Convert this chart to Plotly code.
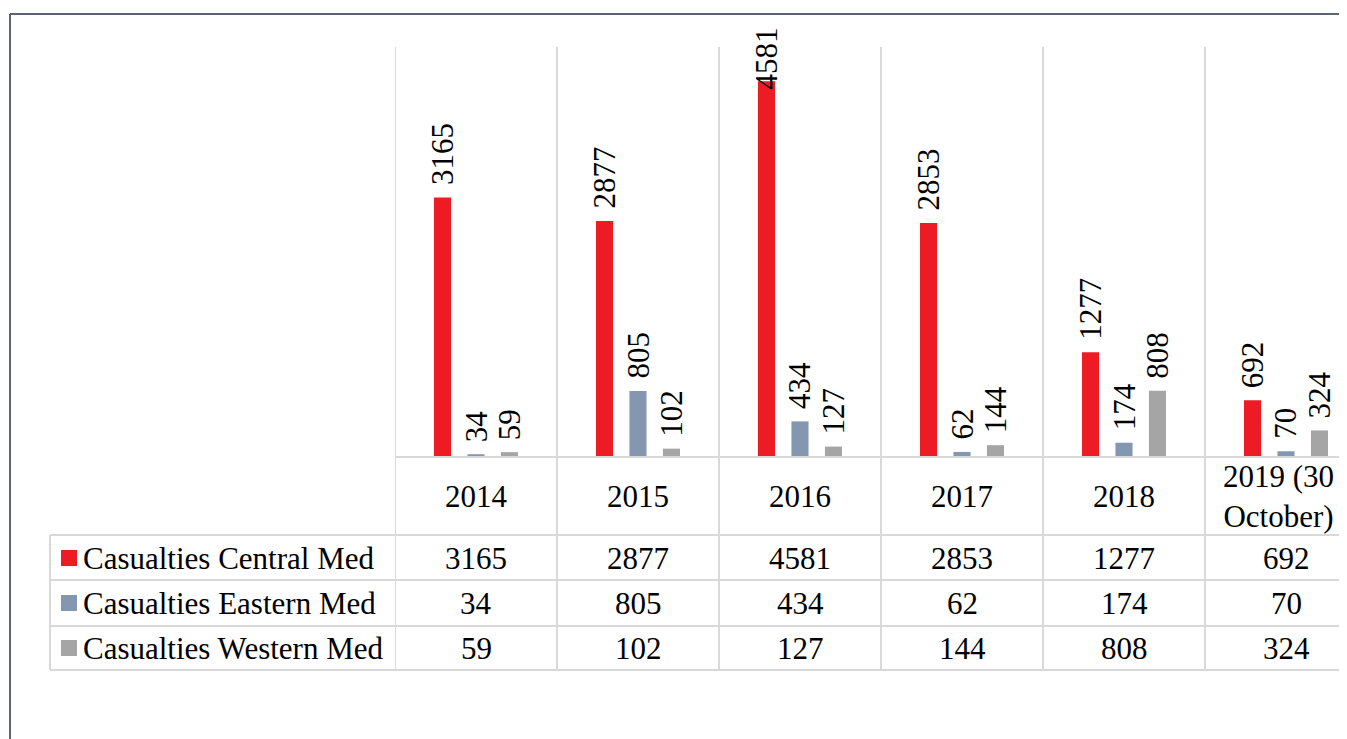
import plotly.graph_objects as go

# ---------------- data ----------------
categories = ["2014", "2015", "2016", "2017", "2018", "2019 (30 October)"]
header_labels = ["2014", "2015", "2016", "2017", "2018", "2019 (30<br>October)"]
series_names = ["Casualties Central Med", "Casualties Eastern Med", "Casualties Western Med"]
central_med = [3165, 2877, 4581, 2853, 1277, 692]
eastern_med = [34, 805, 434, 62, 174, 70]
western_med = [59, 102, 127, 144, 808, 324]
series_values = [central_med, eastern_med, western_med]
colors = ["#ed1c24", "#8497b0", "#a5a5a5"]

# ---------------- geometry ----------------
OFF = 8                       # page body margin of the html page
W, H = 1347 - OFF, 739 - OFF
L, T, PB = 395 - OFF, 47 - OFF, 457 - OFF   # plot left, top, bottom (figure px)
YMAX = 5000
CAT_W = 162
FONT = "Liberation Serif, Times New Roman, serif"
FS = 31
GRID = "#d9d9d9"
LABEL_TOP_LIMIT = 25          # labels are pushed down to stay inside the chart


def px(x):
    """reference-window x pixel -> paper"""
    return (x - OFF - L) / (W - L)


def py(y):
    """reference-window y pixel -> paper"""
    return (PB - (y - OFF)) / (PB - T)


fig = go.Figure()
idx = list(range(len(categories)))
for name, vals, col in zip(series_names, series_values, colors):
    fig.add_trace(go.Bar(x=idx, y=vals, name=name, marker_color=col,
                         marker_line_width=0, showlegend=False, hoverinfo="skip"))

ann = []
shapes = []

# data labels (rotated)
offsets = [-33.5, 0, 33.5]
for i, vals in enumerate(series_values):
    for j, v in enumerate(vals):
        bar_top = (PB + OFF) - v / YMAX * (PB - T)
        glyph_top = bar_top - 15 - 0.5 * FS * len(str(v))
        ysh = 10
        if glyph_top < LABEL_TOP_LIMIT:
            ysh -= (LABEL_TOP_LIMIT - glyph_top)
        ann.append(dict(x=j, y=v, xref="x", yref="y", text=str(v),
                        showarrow=False, textangle=-90, yanchor="bottom", xanchor="center",
                        xshift=offsets[i], yshift=ysh,
                        font=dict(family=FONT, size=FS, color="#000")))

# header row (category labels)
for j, lab in enumerate(header_labels):
    ann.append(dict(x=j, y=py(496), xref="x", yref="paper", text=lab,
                    showarrow=False, yanchor="middle", xanchor="center",
                    xshift=(-8 if j == len(header_labels) - 1 else 0),
                    font=dict(family=FONT, size=FS, color="#000")))

# table rows
row_centers = [558, 603, 648]
for i, (name, vals, col) in enumerate(zip(series_names, series_values, colors)):
    yc = row_centers[i]
    ann.append(dict(x=px(81), y=py(yc), xref="paper", yref="paper", text=name,
                    showarrow=False, xanchor="left", yanchor="middle",
                    font=dict(family=FONT, size=FS, color="#000")))
    shapes.append(dict(type="rect", xref="paper", yref="paper",
                       x0=px(61), x1=px(77), y0=py(yc + 8), y1=py(yc - 8),
                       fillcolor=col, line=dict(width=0)))
    for j, v in enumerate(vals):
        ann.append(dict(x=j, y=py(yc), xref="x", yref="paper", text=str(v),
                        showarrow=False, xanchor="center", yanchor="middle",
                        font=dict(family=FONT, size=FS, color="#000")))

# grid lines of the data table
shapes.append(dict(type="line", xref="paper", yref="paper", x0=0, x1=1.05,
                   y0=py(457), y1=py(457), line=dict(color=GRID, width=2)))
for yy in [535, 580, 626, 670]:
    shapes.append(dict(type="line", xref="paper", yref="paper", x0=px(50), x1=1.05,
                       y0=py(yy), y1=py(yy), line=dict(color=GRID, width=2)))
shapes.append(dict(type="line", xref="paper", yref="paper", x0=px(50), x1=px(50),
                   y0=py(535), y1=py(670), line=dict(color=GRID, width=2)))
for j in idx:
    shapes.append(dict(type="line", xref="x", yref="paper", x0=j - 0.5, x1=j - 0.5,
                       y0=py(47), y1=py(670), line=dict(color=GRID, width=2)))

# outer chart frame
shapes.append(dict(type="line", xref="paper", yref="paper", x0=px(10), x1=1.05,
                   y0=py(14), y1=py(14), line=dict(color="#5b6573", width=2)))
shapes.append(dict(type="line", xref="paper", yref="paper", x0=px(10), x1=px(10),
                   y0=py(14), y1=py(760), line=dict(color="#5b6573", width=2)))

fig.update_layout(
    width=W, height=H,
    margin=dict(l=L, r=0, t=T, b=H - PB, pad=0),
    paper_bgcolor="white", plot_bgcolor="white",
    barmode="group", bargap=0.38, bargroupgap=0.49,
    xaxis=dict(type="linear", range=[-0.5, -0.5 + (W - L) / CAT_W],
               showticklabels=False, showgrid=False, zeroline=False, showline=False,
               ticks="", fixedrange=True),
    yaxis=dict(range=[0, YMAX], visible=False, showgrid=False, zeroline=False,
               fixedrange=True),
    annotations=ann, shapes=shapes,
    font=dict(family=FONT, size=FS, color="#000"),
)

fig.write_html("out.html")
